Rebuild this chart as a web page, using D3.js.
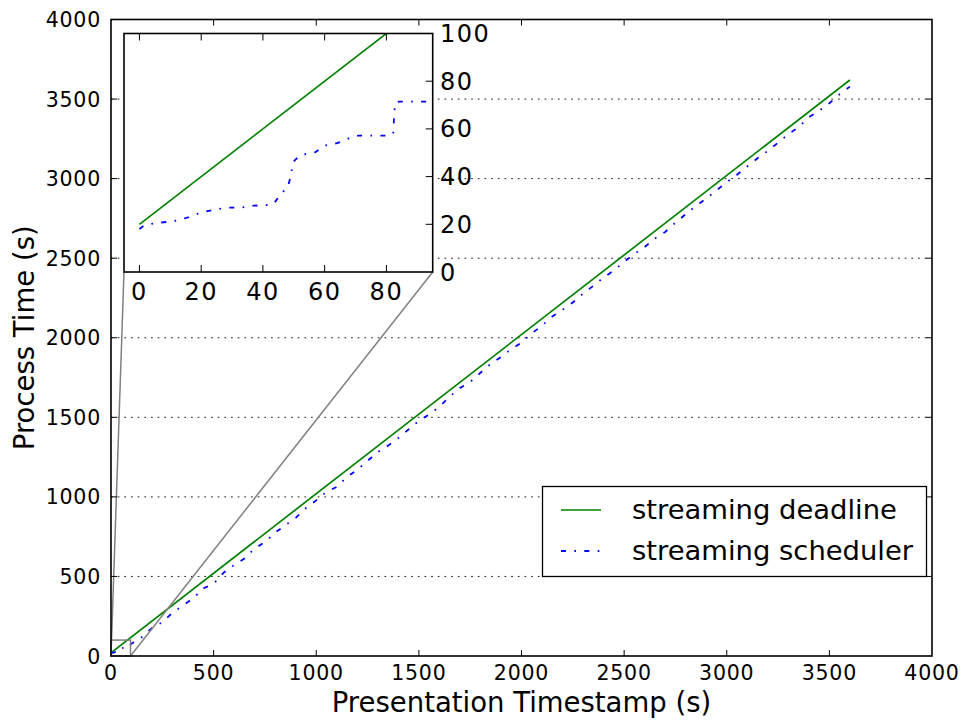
<!DOCTYPE html>
<html><head><meta charset="utf-8">
<script src="https://cdn.jsdelivr.net/npm/d3@7"></script>
<style>body{margin:0;background:#fff}svg{display:block}text{font-family:"DejaVu Sans",sans-serif;fill:#000}</style>
</head><body><svg id="c" width="963" height="721"></svg>
<script>
// ---- data ----
const xTicks = [0, 500, 1000, 1500, 2000, 2500, 3000, 3500, 4000];
const yTicks = [0, 500, 1000, 1500, 2000, 2500, 3000, 3500, 4000];
const gridTicks = [500, 1000, 1500, 2000, 2500, 3000, 3500];
const insetXTicks = [0, 20, 40, 60, 80];
const insetYTicks = [0, 20, 40, 60, 80, 100];
const deadlineT = [0, 3600];
const deadlineV = [20, 3620];
const schedT = [0, 1.5, 5, 9, 12, 16, 20, 24, 28, 33, 37, 43, 44, 46, 48, 49, 49.7, 52, 57, 60, 64, 67, 68.5, 71, 80, 82.2, 82.5, 82.8, 84, 95,
  100, 150, 200, 250, 300, 350, 400, 450, 500, 550, 600, 650, 700, 750, 800, 850, 900, 950, 1000,
  1050, 1100, 1150, 1200, 1250, 1300, 1350, 1400, 1450, 1500, 1550, 1600, 1650, 1700, 1750, 1800,
  1850, 1900, 1950, 2000, 2050, 2100, 2150, 2200, 2250, 2300, 2350, 2400, 2450, 2500, 2550, 2600,
  2650, 2700, 2750, 2800, 2850, 2900, 2950, 3000, 3050, 3100, 3150, 3200, 3250, 3300, 3350, 3400,
  3450, 3500, 3550, 3600];
const schedV = [18, 19.5, 20.5, 21, 21.5, 23, 25, 26, 27, 27, 27.8, 28.2, 29.5, 33, 35.5, 40, 46, 49, 50.2, 53, 54, 55.5, 56.5, 57.2, 57.2, 58, 65, 70.8, 71.4, 71.4,
  78, 118, 176, 212, 272, 318, 362, 425, 455, 525, 572, 612, 676, 716, 776, 822, 868, 930, 978,
  1031, 1063, 1126, 1170, 1226, 1282, 1322, 1370, 1424, 1478, 1518, 1567, 1630, 1684, 1722, 1780,
  1836, 1879, 1928, 1970, 2028, 2076, 2134, 2176, 2222, 2278, 2326, 2379, 2422, 2478, 2526, 2570,
  2624, 2665, 2724, 2776, 2829, 2874, 2926, 2978, 3024, 3076, 3128, 3174, 3226, 3279, 3324, 3386,
  3426, 3474, 3530, 3578];
const seriesNames = ["streaming deadline", "streaming scheduler"];
const seriesColors = ["#008000", "#0000ff"];
const xLabel = "Presentation Timestamp (s)";
const yLabel = "Process Time (s)";
const insetXDomain = [-5, 95];
const insetYDomain = [0, 100];

// ---- layout ----
const svg = d3.select("#c");
const M = {l: 111, r: 932, t: 19.5, b: 656};
const I = {l: 124, r: 432.7, t: 33.5, b: 272};
const x = d3.scaleLinear().domain([0, 4000]).range([M.l, M.r]);
const y = d3.scaleLinear().domain([0, 4000]).range([M.b, M.t]);
const ix = d3.scaleLinear().domain(insetXDomain).range([I.l, I.r]);
const iy = d3.scaleLinear().domain(insetYDomain).range([I.b, I.t]);
const dd = "5,8.33,1.67,8.33";
const deadline = deadlineT.map((t, i) => [t, deadlineV[i]]);
const sched = schedT.map((t, i) => [t, schedV[i]]);

svg.append("defs").append("clipPath").attr("id", "mclip").append("rect")
  .attr("x", M.l).attr("y", M.t).attr("width", M.r - M.l).attr("height", M.b - M.t);
svg.select("defs").append("clipPath").attr("id", "iclip").append("rect")
  .attr("x", I.l).attr("y", I.t).attr("width", I.r - I.l).attr("height", I.b - I.t);

// grid
svg.append("g").selectAll("line").data(gridTicks).join("line")
  .attr("x1", M.l).attr("x2", M.r).attr("y1", d => y(d)).attr("y2", d => y(d))
  .attr("stroke", "#000").attr("stroke-width", 0.9).attr("stroke-dasharray", "1.67,5");

// main series
const mline = d3.line().x(d => x(d[0])).y(d => y(d[1]));
const mg = svg.append("g").attr("clip-path", "url(#mclip)");
mg.append("path").attr("d", mline(deadline)).attr("fill", "none").attr("stroke", seriesColors[0]).attr("stroke-width", 1.67);
mg.append("path").attr("d", mline(sched)).attr("fill", "none").attr("stroke", seriesColors[1]).attr("stroke-width", 1.8).attr("stroke-dasharray", dd);

// inset marker rect + connectors
const rx0 = Math.max(x(insetXDomain[0]), M.l), rx1 = x(insetXDomain[1]);
const ry0 = y(insetYDomain[0]), ry1 = y(insetYDomain[1]);
svg.append("rect").attr("x", rx0).attr("y", ry1).attr("width", rx1 - rx0).attr("height", ry0 - ry1)
  .attr("fill", "none").attr("stroke", "#808080").attr("stroke-width", 1.5);
svg.append("line").attr("x1", rx0).attr("y1", ry0).attr("x2", I.l).attr("y2", I.b)
  .attr("stroke", "#808080").attr("stroke-width", 1.5);
svg.append("line").attr("x1", rx1).attr("y1", ry0).attr("x2", I.r).attr("y2", I.b)
  .attr("stroke", "#808080").attr("stroke-width", 1.5);

// main frame & ticks
const tk = 6;
const mt = svg.append("g");
mt.selectAll("line.xb").data(xTicks.slice(1, -1)).join("line").attr("x1", d => x(d)).attr("x2", d => x(d))
  .attr("y1", M.b).attr("y2", M.b - tk).attr("stroke", "#000").attr("stroke-width", 1);
mt.selectAll("line.xt").data(xTicks.slice(1, -1)).join("line").attr("x1", d => x(d)).attr("x2", d => x(d))
  .attr("y1", M.t).attr("y2", M.t + tk).attr("stroke", "#000").attr("stroke-width", 1);
mt.selectAll("line.yl").data(yTicks.slice(1, -1)).join("line").attr("y1", d => y(d)).attr("y2", d => y(d))
  .attr("x1", M.l).attr("x2", M.l + tk).attr("stroke", "#000").attr("stroke-width", 1);
mt.selectAll("line.yr").data(yTicks.slice(1, -1)).join("line").attr("y1", d => y(d)).attr("y2", d => y(d))
  .attr("x1", M.r).attr("x2", M.r - tk).attr("stroke", "#000").attr("stroke-width", 1);
svg.append("rect").attr("x", M.l).attr("y", M.t).attr("width", M.r - M.l).attr("height", M.b - M.t)
  .attr("fill", "none").attr("stroke", "#000").attr("stroke-width", 1.6);
svg.append("g").selectAll("text").data(xTicks).join("text")
  .attr("x", d => x(d)).attr("y", 680).attr("text-anchor", "middle").attr("font-size", 20.5)
  .attr("letter-spacing", 0.8).text(d => d);
svg.append("g").selectAll("text").data(yTicks).join("text")
  .attr("x", 101).attr("y", d => y(d) + 7.5).attr("text-anchor", "end").attr("font-size", 20.5)
  .attr("letter-spacing", 0.8).text(d => d);
svg.append("text").attr("x", (M.l + M.r) / 2).attr("y", 712).attr("text-anchor", "middle").attr("font-size", 27.5).text(xLabel);
svg.append("text").attr("transform", `translate(34,${(M.t + M.b) / 2}) rotate(-90)`).attr("text-anchor", "middle").attr("font-size", 27.5).text(yLabel);

// legend
const lg = svg.append("g");
lg.append("rect").attr("x", 542.5).attr("y", 486.5).attr("width", 384).attr("height", 90)
  .attr("fill", "#fff").attr("stroke", "#000").attr("stroke-width", 1.3);
[510, 551].forEach((ly, i) => {
  lg.append("line").attr("x1", 561).attr("x2", 601).attr("y1", ly).attr("y2", ly)
    .attr("stroke", seriesColors[i]).attr("stroke-width", i ? 1.8 : 1.67).attr("stroke-dasharray", i ? dd : null);
  lg.append("text").attr("x", 632).attr("y", ly + 8.5).attr("font-size", 27.4).text(seriesNames[i]);
});

// inset
const ig = svg.append("g");
ig.append("rect").attr("x", I.l).attr("y", I.t).attr("width", I.r - I.l).attr("height", I.b - I.t).attr("fill", "#fff");
const iline = d3.line().x(d => ix(d[0])).y(d => iy(d[1]));
const ic = ig.append("g").attr("clip-path", "url(#iclip)");
ic.append("path").attr("d", iline(deadline)).attr("fill", "none").attr("stroke", seriesColors[0]).attr("stroke-width", 1.67);
ic.append("path").attr("d", iline(sched)).attr("fill", "none").attr("stroke", seriesColors[1]).attr("stroke-width", 1.8).attr("stroke-dasharray", dd);
const itk = 7;
ig.selectAll("line.ixb").data(insetXTicks).join("line").attr("x1", d => ix(d)).attr("x2", d => ix(d))
  .attr("y1", I.b).attr("y2", I.b - itk).attr("stroke", "#000").attr("stroke-width", 1);
ig.selectAll("line.ixt").data(insetXTicks).join("line").attr("x1", d => ix(d)).attr("x2", d => ix(d))
  .attr("y1", I.t).attr("y2", I.t + itk).attr("stroke", "#000").attr("stroke-width", 1);
ig.selectAll("line.iyr").data(insetYTicks.slice(1, -1)).join("line").attr("y1", d => iy(d)).attr("y2", d => iy(d))
  .attr("x1", I.r).attr("x2", I.r - itk).attr("stroke", "#000").attr("stroke-width", 1);
ig.append("rect").attr("x", I.l).attr("y", I.t).attr("width", I.r - I.l).attr("height", I.b - I.t)
  .attr("fill", "none").attr("stroke", "#000").attr("stroke-width", 1.6);
ig.selectAll("text.ixl").data(insetXTicks).join("text")
  .attr("x", d => ix(d)).attr("y", 299.5).attr("text-anchor", "middle").attr("font-size", 24)
  .attr("letter-spacing", 1.5).text(d => d);
ig.selectAll("text.iyl").data(insetYTicks).join("text")
  .attr("x", 440).attr("y", d => iy(d) + 8.5).attr("text-anchor", "start").attr("font-size", 24)
  .attr("letter-spacing", 1.5).text(d => d);
</script></body></html>
